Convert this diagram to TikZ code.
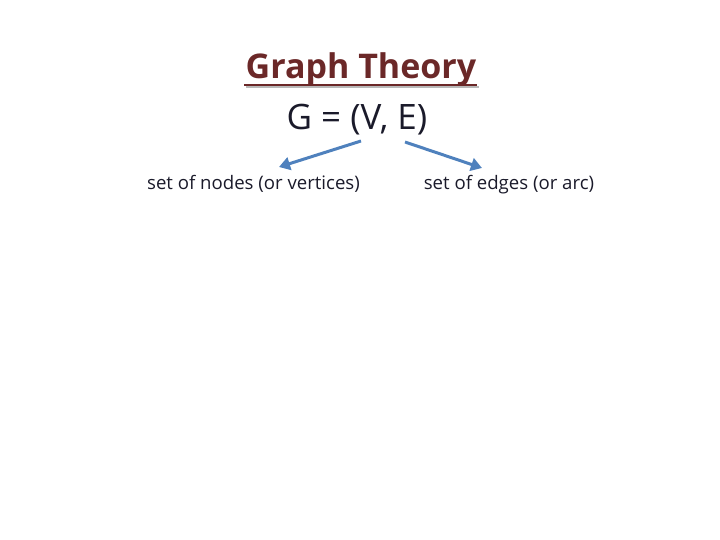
\documentclass[tikz,border=0pt]{standalone}
\usepackage{fontspec}
\setmainfont{Open Sans}
\usetikzlibrary{arrows.meta}
\definecolor{titlered}{HTML}{6B2828}
\definecolor{arrowblue}{HTML}{4F81BD}
\definecolor{textdark}{HTML}{1A1A2A}
\tikzset{
  titletext/.style={font=\fontsize{34}{40}\selectfont\bfseries, text=titlered, inner sep=0pt, anchor=base},
  eqtext/.style={font=\fontsize{35}{40}\selectfont, text=textdark, inner sep=0pt, anchor=base},
  labeltext/.style={font=\fontsize{18.6}{22}\selectfont, text=textdark, inner sep=0pt, anchor=base},
  conn/.style={draw=arrowblue, line width=3pt, -{Triangle[length=11pt,width=13pt]}},
}
\begin{document}
\begin{tikzpicture}[x=1pt,y=-1pt]
\useasboundingbox (0,0) rectangle (720,540);
\node[titletext] (title) at (361,79) {Graph Theory};
\draw[gray!55, line width=2.5pt] (246,87) -- (479,87);
\draw[titlered, line width=2.5pt] (244,85) -- (477,85);
\node[eqtext] (eq) at (357,130) {G = (V, E)};
\coordinate (vpt) at (361,141);
\coordinate (ept) at (405,142);
\node[labeltext] (nodes) at (253.5,190) {set of nodes (or vertices)};
\node[labeltext] (edges) at (509,190) {set of edges (or arc)};
\coordinate (ltip) at (279,167);
\coordinate (rtip) at (482,168);
\draw[conn] (vpt) -- (ltip);
\draw[conn] (ept) -- (rtip);
\end{tikzpicture}
\end{document}
